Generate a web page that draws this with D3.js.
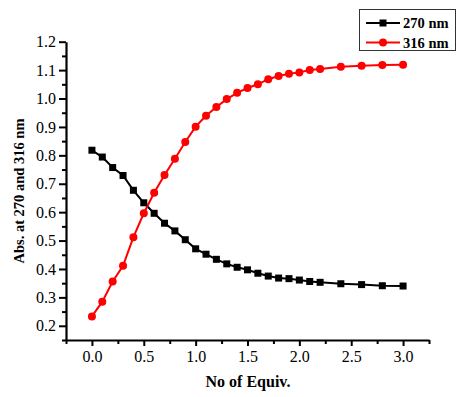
<!DOCTYPE html>
<html>
<head>
<meta charset="utf-8">
<script src="https://cdn.jsdelivr.net/npm/d3@7"></script>
<style>
  body { margin: 0; background: #fff; }
  svg, svg text { font-family: "Liberation Serif", "Times New Roman", serif; }
  .axis path, .axis line { stroke: #000; }
</style>
</head>
<body>
<svg id="chart" width="459" height="397"></svg>
<script>
// data
var equiv = [0, 0.1, 0.2, 0.3, 0.4, 0.5, 0.6, 0.7, 0.8, 0.9, 1.0, 1.1, 1.2, 1.3, 1.4,
             1.5, 1.6, 1.7, 1.8, 1.9, 2.0, 2.1, 2.2, 2.4, 2.6, 2.8, 3.0];
var abs270 = [0.818, 0.794, 0.757, 0.729, 0.677, 0.633, 0.596, 0.561, 0.534, 0.503,
              0.471, 0.452, 0.434, 0.418, 0.406, 0.397, 0.385, 0.375, 0.368, 0.366,
              0.361, 0.356, 0.353, 0.348, 0.345, 0.341, 0.340];
var abs316 = [0.233, 0.285, 0.356, 0.411, 0.512, 0.596, 0.668, 0.731, 0.788, 0.847,
              0.901, 0.939, 0.970, 0.998, 1.020, 1.037, 1.050, 1.068, 1.079, 1.087,
              1.092, 1.100, 1.104, 1.112, 1.115, 1.118, 1.119];
var seriesNames = ["270 nm", "316 nm"];
var xTicks = [0, 0.5, 1.0, 1.5, 2.0, 2.5, 3.0];
var yTicks = [0.2, 0.3, 0.4, 0.5, 0.6, 0.7, 0.8, 0.9, 1.0, 1.1, 1.2];

var svg = d3.select("#chart");

var x = d3.scaleLinear().domain([-0.25, 3.25]).range([66, 429]);
var y = d3.scaleLinear().domain([0.15, 1.2]).range([340, 41.7]);

// minor ticks (no labels)
var xMinor = d3.range(-0.25, 3.3, 0.5);
var yMinor = d3.range(0.15, 1.2, 0.1);

svg.append("g")
  .attr("class", "axis")
  .attr("transform", "translate(0,340)")
  .call(d3.axisBottom(x).tickValues(xMinor).tickSize(4).tickFormat(""))
  .call(g => g.select(".domain").remove())
  .selectAll("line").attr("stroke-width", 2);

svg.append("g")
  .attr("class", "axis")
  .attr("transform", "translate(66,0)")
  .call(d3.axisLeft(y).tickValues(yMinor).tickSize(4).tickFormat(""))
  .call(g => g.select(".domain").remove())
  .selectAll("line").attr("stroke-width", 2);

// major axes
var gx = svg.append("g")
  .attr("class", "axis")
  .attr("transform", "translate(0,340)")
  .call(d3.axisBottom(x).tickValues(xTicks).tickSize(6).tickSizeOuter(0).tickPadding(5)
        .tickFormat(d3.format(".1f")))
  .attr("font-family", null);
gx.select(".domain").attr("stroke-width", 2.2);
gx.selectAll("line").attr("stroke-width", 2);
gx.selectAll("text").attr("font-size", 16).attr("fill", "#000");

var gy = svg.append("g")
  .attr("class", "axis")
  .attr("transform", "translate(66,0)")
  .call(d3.axisLeft(y).tickValues(yTicks).tickSize(7).tickSizeOuter(0).tickPadding(3)
        .tickFormat(d3.format(".1f")))
  .attr("font-family", null);
gy.select(".domain").attr("stroke-width", 2.2);
gy.selectAll("line").attr("stroke-width", 2);
gy.selectAll("text").attr("font-size", 16).attr("fill", "#000");

// axis titles
svg.append("text")
  .attr("x", 248).attr("y", 387)
  .attr("text-anchor", "middle")
  .attr("font-size", 16).attr("font-weight", "bold")
  .text("No of Equiv.");

svg.append("text")
  .attr("transform", "translate(24,191) rotate(-90)")
  .attr("text-anchor", "middle")
  .attr("font-size", 14.5).attr("font-weight", "bold")
  .text("Abs. at 270 and 316 nm");

// lines
var line = d3.line().x((d, i) => x(equiv[i])).y(d => y(d));

svg.append("path").datum(abs270)
  .attr("d", line).attr("fill", "none")
  .attr("stroke", "#000").attr("stroke-width", 2);

svg.append("path").datum(abs316)
  .attr("d", line).attr("fill", "none")
  .attr("stroke", "#ff0000").attr("stroke-width", 2);

// markers
svg.append("g").selectAll("rect")
  .data(abs270).enter().append("rect")
  .attr("x", (d, i) => x(equiv[i]) - 3.5)
  .attr("y", d => y(d) - 3.5)
  .attr("width", 7).attr("height", 7)
  .attr("fill", "#000");

svg.append("g").selectAll("circle")
  .data(abs316).enter().append("circle")
  .attr("cx", (d, i) => x(equiv[i]))
  .attr("cy", d => y(d))
  .attr("r", 4)
  .attr("fill", "#ff0000");

// legend
var legend = svg.append("g");
legend.append("rect")
  .attr("x", 359.5).attr("y", 9.5)
  .attr("width", 96).attr("height", 41)
  .attr("fill", "#fff").attr("stroke", "#333").attr("stroke-width", 1);

var colors = ["#000", "#ff0000"];
seriesNames.forEach(function(name, i) {
  var ly = 23 + i * 19.5;
  legend.append("line")
    .attr("x1", 366).attr("x2", 400).attr("y1", ly).attr("y2", ly)
    .attr("stroke", colors[i]).attr("stroke-width", 2);
  if (i == 0) {
    legend.append("rect")
      .attr("x", 383 - 3.5).attr("y", ly - 3.5)
      .attr("width", 7).attr("height", 7).attr("fill", colors[i]);
  } else {
    legend.append("circle")
      .attr("cx", 383).attr("cy", ly).attr("r", 4).attr("fill", colors[i]);
  }
  legend.append("text")
    .attr("x", 403).attr("y", ly + 5)
    .attr("font-size", 14.5).attr("font-weight", "bold")
    .text(name);
});
</script>
</body>
</html>
